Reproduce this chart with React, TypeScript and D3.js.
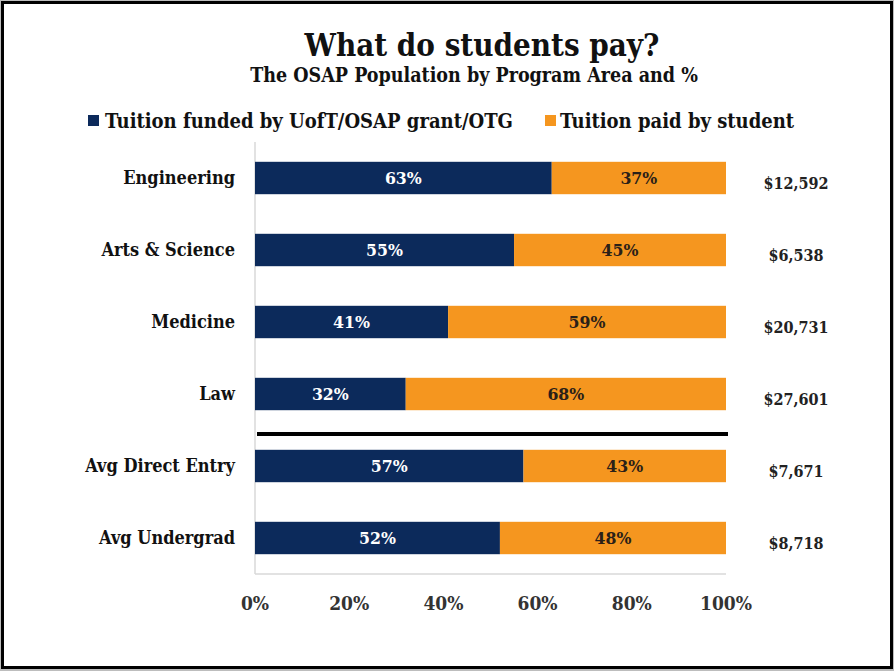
import React from "react";
import * as d3 from "d3";

const categories = ["Engineering", "Arts & Science", "Medicine", "Law", "Avg Direct Entry", "Avg Undergrad"];
const fundedPct = [63, 55, 41, 32, 57, 52];
const paidPct = [37, 45, 59, 68, 43, 48];
const tuitionCost = [12592, 6538, 20731, 27601, 7671, 8718];
const xTicks = [0, 20, 40, 60, 80, 100];
const seriesNames = ["Tuition funded by UofT/OSAP grant/OTG", "Tuition paid by student"];
const seriesColors = ["#0c2a5b", "#f5961f"];
const titleText = "What do students pay?";
const subtitleText = "The OSAP Population by Program Area and %";

const W = 894;
const H = 671;
const FONT = "'DejaVu Serif Condensed', 'DejaVu Serif', serif";

export default function App() {
  const x = d3.scaleLinear().domain([0, 100]).range([255, 726]);
  const y = d3
    .scaleBand<string>()
    .domain(categories)
    .range([142, 574])
    .paddingInner(0.55)
    .paddingOuter(0.275);
  const bw = y.bandwidth();
  const fmtMoney = d3.format("$,");
  const lawBottom = (y("Law") as number) + bw;
  const directTop = y("Avg Direct Entry") as number;
  const sepY = (lawBottom + directTop) / 2 + 4;

  return (
    <svg
      width={W}
      height={H}
      style={{ position: "absolute", left: 0, top: 0, background: "#fff" }}
      fontFamily={FONT}
      fontStretch="condensed"
    >
      <rect x={0} y={0} width={W} height={H} fill="#bdbdbd" />
      <rect x={2.5} y={2.5} width={889} height={665} fill="#fff" stroke="#000" strokeWidth={3} />

      <text x={482} y={56} textAnchor="middle" fontSize={31} fontWeight="bold" fill="#111">
        {titleText}
      </text>
      <text x={474} y={82} textAnchor="middle" fontSize={19.5} fontWeight="bold" fill="#111">
        {subtitleText}
      </text>

      {/* legend */}
      <g fontSize={20} fontWeight="bold" fill="#111">
        <rect x={88} y={115} width={11} height={11} fill={seriesColors[0]} />
        <text x={105} y={128}>{seriesNames[0]}</text>
        <rect x={545} y={115} width={11} height={11} fill={seriesColors[1]} />
        <text x={560} y={128}>{seriesNames[1]}</text>
      </g>

      {/* axes lines */}
      <line x1={x(0)} x2={x(0)} y1={142} y2={574} stroke="#d9d9d9" strokeWidth={1.5} />
      <line x1={x(0)} x2={x(100)} y1={574} y2={574} stroke="#d9d9d9" strokeWidth={1.5} />

      {/* bars */}
      {categories.map((c, i) => {
        const y0 = y(c) as number;
        const cy = y0 + bw / 2;
        return (
          <g key={c}>
            <rect x={x(0)} y={y0} width={x(fundedPct[i]) - x(0)} height={bw} fill={seriesColors[0]} />
            <rect
              x={x(fundedPct[i])}
              y={y0}
              width={x(fundedPct[i] + paidPct[i]) - x(fundedPct[i])}
              height={bw}
              fill={seriesColors[1]}
            />
            <text
              x={(x(0) + x(fundedPct[i])) / 2}
              y={cy + 6}
              textAnchor="middle"
              fontSize={17.5}
              fontWeight="bold"
              fill="#fff"
            >
              {fundedPct[i]}%
            </text>
            <text
              x={(x(fundedPct[i]) + x(fundedPct[i] + paidPct[i])) / 2}
              y={cy + 6}
              textAnchor="middle"
              fontSize={17.5}
              fontWeight="bold"
              fill="#2a2018"
            >
              {paidPct[i]}%
            </text>
            <text x={235} y={cy + 6} textAnchor="end" fontSize={18} fontWeight="bold" fill="#111">
              {c}
            </text>
            <text x={796} y={cy + 11} textAnchor="middle" fontSize={16} fontWeight="bold" fill="#222">
              {fmtMoney(tuitionCost[i])}
            </text>
          </g>
        );
      })}

      <line x1={257} x2={728} y1={sepY} y2={sepY} stroke="#000" strokeWidth={4} />

      {/* x tick labels */}
      {xTicks.map((t) => (
        <text key={t} x={x(t)} y={610} textAnchor="middle" fontSize={19} fontWeight="bold" fill="#333">
          {t}%
        </text>
      ))}
    </svg>
  );
}
